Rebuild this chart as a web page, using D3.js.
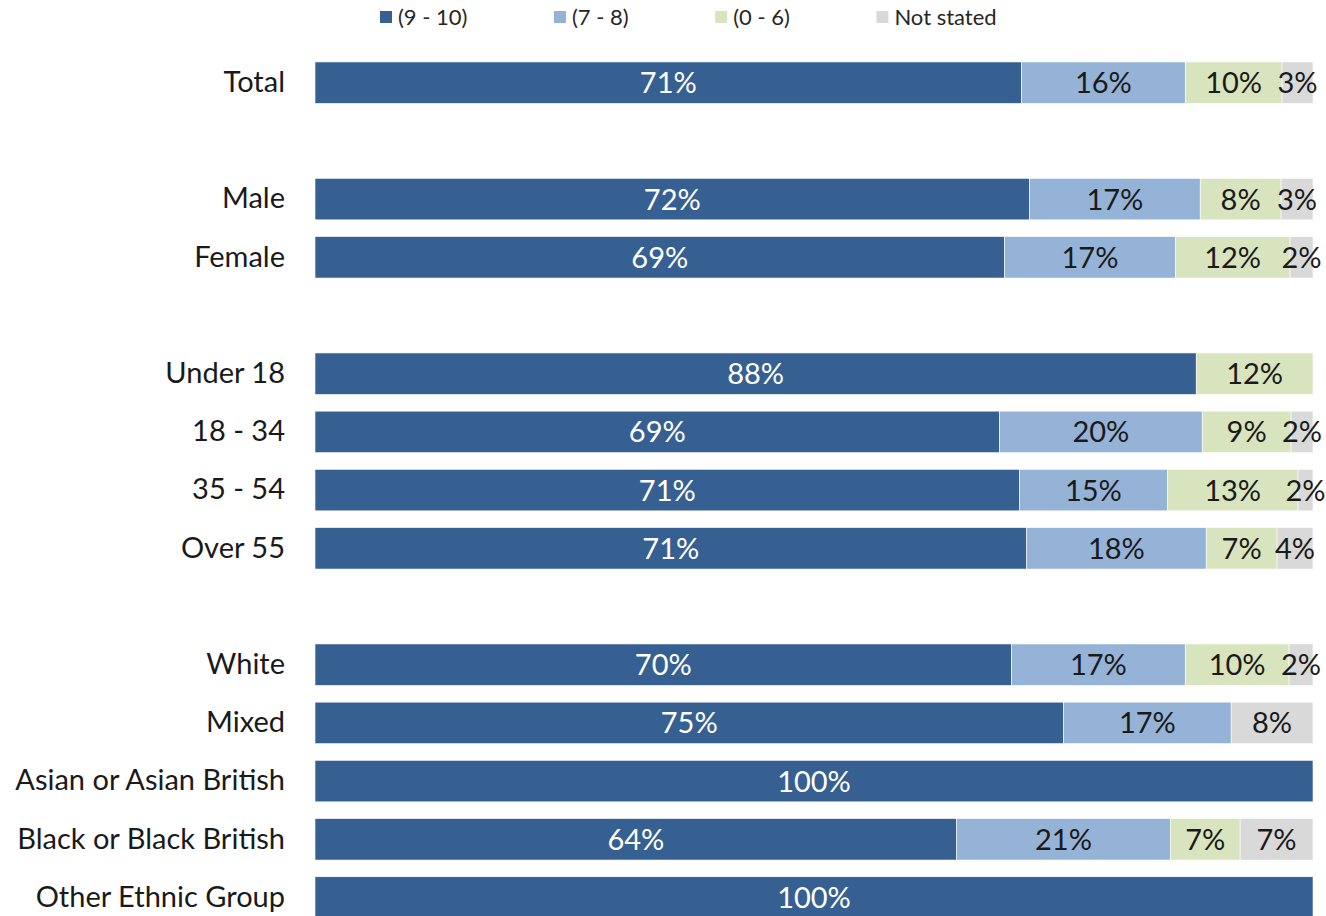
<!DOCTYPE html>
<html>
<head>
<meta charset="utf-8">
<script src="https://cdn.jsdelivr.net/npm/d3@7"></script>
<style>
  html, body { margin: 0; padding: 0; background: #fff; }
  svg { display: block; }
  text { font-family: Lato, "Open Sans", sans-serif; }
</style>
</head>
<body>
<svg id="chart" width="1326" height="916"></svg>
<script>
// ---- data ----
const categories = ["Total", "", "Male", "Female", "", "Under 18", "18 - 34", "35 - 54", "Over 55", "", "White", "Mixed", "Asian or Asian British", "Black or Black British", "Other Ethnic Group"];
const seriesNames = ["(9 - 10)", "(7 - 8)", "(0 - 6)", "Not stated"];
const score9to10 = [70.8, null, 71.6, 69.1, null, 88.3, 68.6, 70.6, 71.3, null, 69.8, 75.0, 100, 64.3, 100];
const score7to8  = [16.4, null, 17.1, 17.1, null, 0,    20.3, 14.8, 18.0, null, 17.4, 16.8, 0,   21.4, 0];
const score0to6  = [9.7,  null, 8.1,  11.5, null, 11.7, 8.9,  13.1, 7.1,  null, 10.4, 0,    0,   7.0,  0];
const notStated  = [3.1,  null, 3.2,  2.3,  null, 0,    2.2,  1.5,  3.6,  null, 2.4,  8.2,  0,   7.3,  0];
const colors = ["#376092", "#95B3D7", "#D7E4BD", "#D9D9D9"];
const labelColors = ["#ffffff", "#1a1a1a", "#1a1a1a", "#1a1a1a"];

const seriesValues = [score9to10, score7to8, score0to6, notStated];

const rows = categories.map((c, i) => {
  const r = { key: "r" + i, name: c, blank: score9to10[i] === null };
  seriesNames.forEach((s, j) => { r[s] = seriesValues[j][i] || 0; });
  return r;
});

const svg = d3.select("#chart");

const x = d3.scaleLinear().domain([0, 100]).range([315, 1313]);
const y = d3.scaleBand()
  .domain(rows.map(r => r.key))
  .range([53.6, 926.6])
  .paddingInner(0.287)
  .paddingOuter(0.1435);

const stack = d3.stack().keys(seriesNames);
const stacked = stack(rows.filter(r => !r.blank));

// bars
const groups = svg.append("g").selectAll("g")
  .data(stacked)
  .join("g")
  .attr("fill", (d, i) => colors[i]);

groups.selectAll("rect")
  .data(d => d.filter(p => p[1] - p[0] > 0))
  .join("rect")
  .attr("x", d => x(d[0]))
  .attr("y", d => y(d.data.key))
  .attr("width", d => x(d[1]) - x(d[0]))
  .attr("height", y.bandwidth())
  .attr("stroke", "#ffffff")
  .attr("stroke-width", 0.6);

// value labels
stacked.forEach((layer, i) => {
  svg.append("g").selectAll("text")
    .data(layer.filter(p => p[1] - p[0] > 0))
    .join("text")
    .attr("x", d => (x(d[0]) + x(d[1])) / 2)
    .attr("y", d => y(d.data.key) + y.bandwidth() / 2)
    .attr("dy", "0.36em")
    .attr("text-anchor", "middle")
    .attr("font-size", 29)
    .attr("fill", labelColors[i])
    .text(d => Math.round(d[1] - d[0]) + "%");
});

// category axis
const yAxis = d3.axisLeft(y)
  .tickSize(0)
  .tickPadding(0)
  .tickFormat(k => rows.find(r => r.key === k).name);

const axisG = svg.append("g")
  .attr("transform", "translate(285,0)")
  .call(yAxis);
axisG.select(".domain").remove();
axisG.selectAll("text")
  .attr("font-size", 29)
  .attr("font-family", "Lato, 'Open Sans', sans-serif")
  .attr("fill", "#1a1a1a")
  .attr("dy", "0.32em");

// legend
const legend = svg.append("g").attr("transform", "translate(0,17)");
let lx = 380;
seriesNames.forEach((s, i) => {
  const g = legend.append("g").attr("transform", `translate(${lx},0)`);
  g.append("rect").attr("x", 0).attr("y", -6).attr("width", 12).attr("height", 12).attr("fill", colors[i]);
  const t = g.append("text")
    .attr("x", 18).attr("y", 0).attr("dy", "0.35em")
    .attr("font-size", 22).attr("fill", "#262626")
    .text(s);
  const w = t.node().getComputedTextLength();
  lx += 18 + w + 86.5;
});
</script>
</body>
</html>
